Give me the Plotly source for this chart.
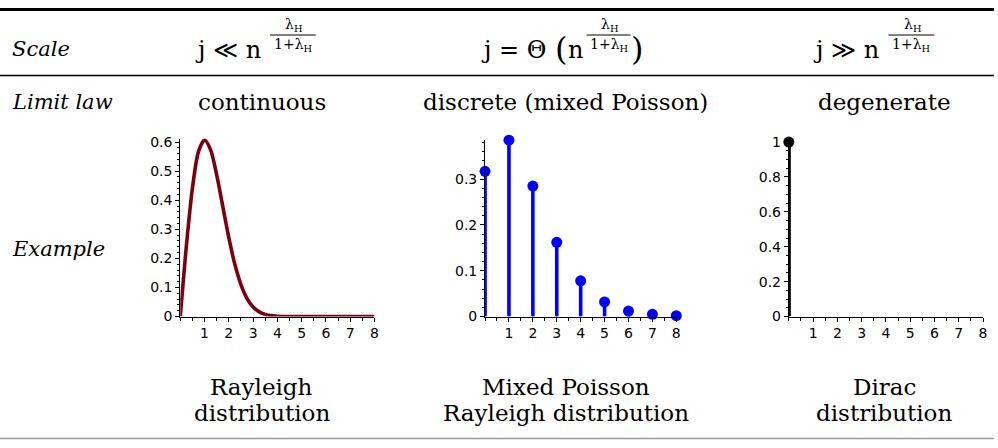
import plotly.graph_objects as go

W, H = 998, 448

# ---- data ----
ray_x = [0, 0.1, 0.25, 0.5, 0.75, 1, 1.25, 1.5, 1.75, 2, 2.25, 2.5, 2.75, 3, 3.25, 3.5, 3.75, 4, 4.5, 5, 6, 7, 8]
ray_y = [0, 0.099, 0.242, 0.441, 0.567, 0.607, 0.573, 0.487, 0.379, 0.271, 0.179, 0.110, 0.062, 0.033, 0.016, 0.0076, 0.0033, 0.0013, 0.0002, 0, 0, 0, 0]

mp_k = [0, 1, 2, 3, 4, 5, 6, 7, 8]
mp_p = [0.317, 0.385, 0.285, 0.162, 0.078, 0.032, 0.012, 0.005, 0.002]

dirac_k = [0]
dirac_p = [1.0]

row_labels = ["Scale", "Limit law", "Example"]
limit_laws = ["continuous", "discrete (mixed Poisson)", "degenerate"]
bottom_l1 = ["Rayleigh", "Mixed Poisson", "Dirac"]
bottom_l2 = ["distribution", "Rayleigh distribution", "distribution"]

x_ticks = [1, 2, 3, 4, 5, 6, 7, 8]
y_ticks1 = [0, 0.1, 0.2, 0.3, 0.4, 0.5, 0.6]
y_ticks2 = [0, 0.1, 0.2, 0.3]
y_ticks3 = [0, 0.2, 0.4, 0.6, 0.8, 1]

def px(p):
    return p / W

def py(p):
    return 1 - p / H

SERIF = "DejaVu Serif"
SANS = "DejaVu Sans"

fig = go.Figure()

def stems(ks, ps):
    xs, ys = [], []
    for k, p in zip(ks, ps):
        xs += [k, k, None]
        ys += [0, p, None]
    return xs, ys

# chart 1 : Rayleigh density
fig.add_trace(go.Scatter(x=ray_x, y=ray_y, mode="lines", line=dict(color="#7d0010", width=3.6, shape="spline", smoothing=0.8),
                         xaxis="x", yaxis="y", cliponaxis=False, showlegend=False))
# chart 2 : mixed Poisson Rayleigh
sx, sy = stems(mp_k, mp_p)
fig.add_trace(go.Scatter(x=sx, y=sy, mode="lines", line=dict(color="#0000ff", width=3.6),
                         xaxis="x2", yaxis="y2", cliponaxis=False, showlegend=False))
fig.add_trace(go.Scatter(x=mp_k, y=mp_p, mode="markers", marker=dict(color="#0000ff", size=11),
                         xaxis="x2", yaxis="y2", cliponaxis=False, showlegend=False))
# chart 3 : Dirac
sx3, sy3 = stems(dirac_k, dirac_p)
fig.add_trace(go.Scatter(x=sx3, y=sy3, mode="lines", line=dict(color="black", width=4),
                         xaxis="x3", yaxis="y3", cliponaxis=False, showlegend=False))
fig.add_trace(go.Scatter(x=dirac_k, y=dirac_p, mode="markers", marker=dict(color="black", size=11),
                         xaxis="x3", yaxis="y3", cliponaxis=False, showlegend=False))

def xaxis_cfg(x0, x1, anchor):
    return dict(domain=[px(x0), px(x1)], range=[0, 8], anchor=anchor,
                showgrid=False, zeroline=False, showline=True, linecolor="black", linewidth=1,
                tickmode="array", tickvals=x_ticks, ticktext=[str(v) for v in x_ticks],
                ticks="outside", ticklen=4, tickcolor="black", tickwidth=1,
                minor=dict(dtick=0.5, tick0=0, ticks="outside", ticklen=3, tickcolor="black"),
                tickfont=dict(family=SANS, size=14, color="black"), fixedrange=True)

def yaxis_cfg(top_px, ymax, vals, minor_dt, anchor, fmt):
    return dict(domain=[py(320), py(top_px)], range=[0, ymax], anchor=anchor,
                showgrid=False, zeroline=False, showline=True, linecolor="black", linewidth=1,
                tickmode="array", tickvals=vals, ticktext=[fmt(v) for v in vals],
                ticks="outside", ticklen=4, tickcolor="black", tickwidth=1,
                minor=dict(dtick=minor_dt, tick0=0, ticks="outside", ticklen=2, tickcolor="black"),
                tickfont=dict(family=SANS, size=14, color="black"), fixedrange=True)

def f1(v):
    return "0" if v == 0 else ("%g" % v)

fig.update_layout(
    xaxis=xaxis_cfg(181, 376, "y"),
    yaxis=yaxis_cfg(320 - 0.612 * 181 / 0.6, 0.612, y_ticks1, 0.02, "x", f1),
    xaxis2=xaxis_cfg(487, 679, "y2"),
    yaxis2=yaxis_cfg(320 - 0.386 * 475, 0.386, y_ticks2, 0.02, "x2", f1),
    xaxis3=xaxis_cfg(792, 987, "y3"),
    yaxis3=yaxis_cfg(320 - 1.0 * 181, 1.0, y_ticks3, 0.05, "x3", f1),
)

ann = []
def text(x, y, t, size=23, anchor="center", italic=False, family=SERIF):
    ann.append(dict(x=px(x), y=py(y), xref="paper", yref="paper", text=("<i>%s</i>" % t) if italic else t,
                    showarrow=False, xanchor=anchor, yanchor="middle",
                    font=dict(family=family, size=size, color="black")))

text(10, 42, row_labels[0], anchor="left", italic=True, size=21)
text(10, 97, row_labels[1], anchor="left", italic=True, size=21)
text(10, 250, row_labels[2], anchor="left", italic=True, size=21)

cols = [263, 568, 888]
for c, t in zip(cols, limit_laws):
    text(c, 97, t)
for c, t1, t2 in zip(cols, bottom_l1, bottom_l2):
    text(c, 393, t1)
    text(c, 420, t2)

shapes = []
def frac(xc, w=46):
    text(xc + 1, 18, "λ<sub>H</sub>", size=14)
    text(xc, 38, "1+λ<sub>H</sub>", size=14)
    shapes.append(dict(type="line", xref="paper", yref="paper", x0=px(xc - w / 2), x1=px(xc + w / 2),
                       y0=py(28), y1=py(28), line=dict(color="black", width=1)))

text(264, 44, "j ≪ n", size=24, anchor="right")
frac(294)
text(550, 44, "j = Θ", size=24, anchor="right")
text(563, 42, "(", size=32, anchor="center")
text(587, 44, "n", size=24, anchor="right")
frac(611, w=44)
text(640, 42, ")", size=32, anchor="center")
text(885, 44, "j ≫ n", size=24, anchor="right")
frac(915)

# horizontal rules
shapes.append(dict(type="line", xref="paper", yref="paper", x0=0, x1=1, y0=py(1.5), y1=py(1.5), line=dict(color="black", width=3)))
shapes.append(dict(type="line", xref="paper", yref="paper", x0=0, x1=1, y0=py(70), y1=py(70), line=dict(color="black", width=1.6)))
shapes.append(dict(type="line", xref="paper", yref="paper", x0=0, x1=1, y0=py(446.5), y1=py(446.5), line=dict(color="#9a9a9a", width=1.5)))

# start at the size that fits the page with the default body margin, then fill the window
fig.update_layout(width=W - 16, height=H - 16, margin=dict(l=0, r=0, t=0, b=0),
                  paper_bgcolor="white", plot_bgcolor="white",
                  annotations=ann, shapes=shapes, showlegend=False)

post = ("document.body.style.margin='0';"
        "var gd=document.getElementById('{plot_id}');"
        "gd.style.width='%dpx';gd.style.height='%dpx';"
        "Plotly.relayout(gd, {width: %d, height: %d});" % (W, H, W, H))

fig.write_html("out.html", config=dict(displayModeBar=False), post_script=post)
